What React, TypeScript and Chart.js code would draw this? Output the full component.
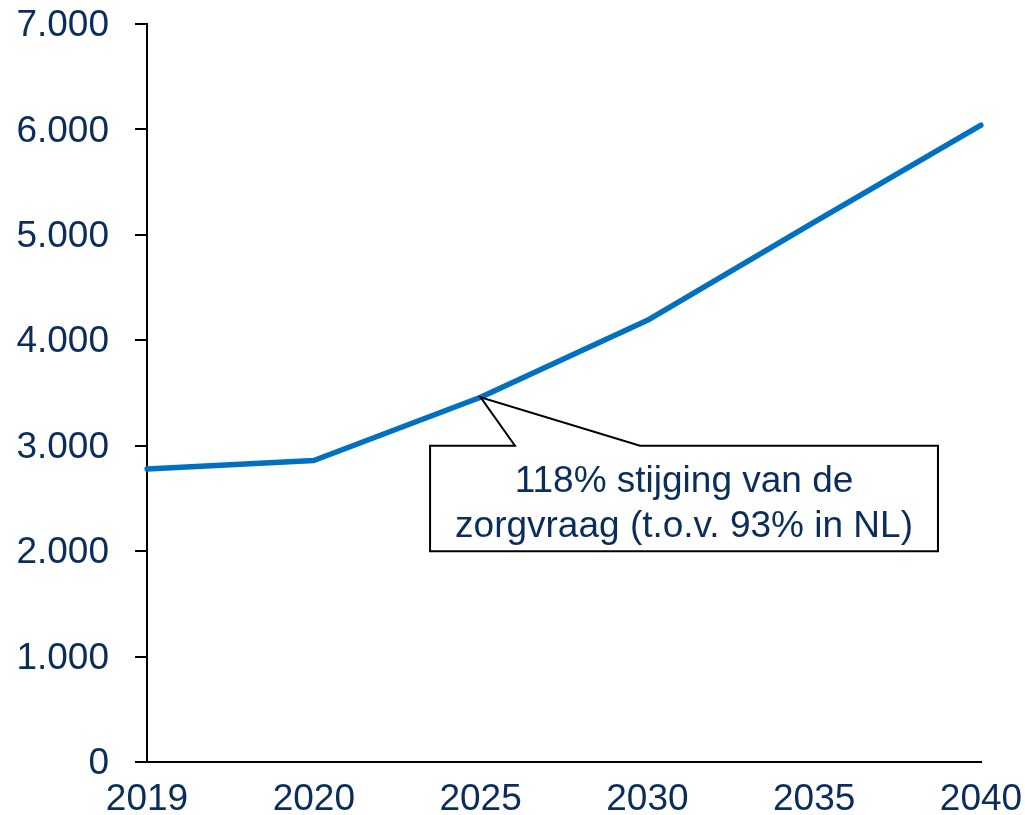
import React, { useEffect, useRef } from "react";
import { Chart, registerables } from "chart.js";

Chart.register(...registerables);

const categories = ["2019", "2020", "2025", "2030", "2035", "2040"];
const zorgvraag = [2780, 2860, 3460, 4190, 5120, 6040];
const yTicks = [0, 1000, 2000, 3000, 4000, 5000, 6000, 7000];
const calloutLines = ["118% stijging van de", "zorgvraag (t.o.v. 93% in NL)"];

const NAVY = "#0B2D5C";
const BLUE = "#0070C0";
const FONT = "'Liberation Sans', Arial, sans-serif";

const fmt = (v: number) => String(v).replace(/\B(?=(\d{3})+(?!\d))/g, ".");

const calloutPlugin = {
  id: "callout",
  afterDatasetsDraw(chart: any) {
    const { ctx, scales } = chart;
    const xs = scales.x;
    const ys = scales.y;
    const anchorIdx = 2;
    const tipX = xs.getPixelForValue(anchorIdx);
    const tipY = ys.getPixelForValue(zorgvraag[anchorIdx]);
    const left = xs.getPixelForValue(1.697);
    const right = xs.getPixelForValue(4.742);
    const top = ys.getPixelForValue(3000);
    const bottom = ys.getPixelForValue(2000);
    const baseL = xs.getPixelForValue(2.206);
    const baseR = xs.getPixelForValue(2.956);
    ctx.save();
    ctx.beginPath();
    ctx.moveTo(left, top);
    ctx.lineTo(baseL, top);
    ctx.lineTo(tipX, tipY);
    ctx.lineTo(baseR, top);
    ctx.lineTo(right, top);
    ctx.lineTo(right, bottom);
    ctx.lineTo(left, bottom);
    ctx.closePath();
    ctx.fillStyle = "#FFFFFF";
    ctx.fill();
    ctx.strokeStyle = "#000000";
    ctx.lineWidth = 2;
    ctx.stroke();
    ctx.fillStyle = NAVY;
    ctx.font = `37px ${FONT}`;
    ctx.textAlign = "center";
    ctx.textBaseline = "middle";
    const cx = (left + right) / 2;
    const cy = (top + bottom) / 2;
    ctx.fillText(calloutLines[0], cx, cy - 17);
    ctx.fillText(calloutLines[1], cx, cy + 28);
    ctx.restore();
  },
};

export default function App() {
  const ref = useRef<HTMLCanvasElement>(null);
  useEffect(() => {
    if (!ref.current) return;
    const chart = new Chart(ref.current, {
      type: "line",
      data: {
        labels: categories,
        datasets: [
          {
            data: zorgvraag,
            borderColor: BLUE,
            borderWidth: 5.5,
            pointRadius: 0,
            tension: 0,
            fill: false,
            borderCapStyle: "round",
            borderJoinStyle: "round",
          },
        ],
      },
      options: {
        animation: false,
        responsive: false,
        maintainAspectRatio: false,
        layout: { padding: { left: 0, right: 44, top: 24, bottom: 0 } },
        plugins: { legend: { display: false }, tooltip: { enabled: false } },
        scales: {
          x: {
            type: "category",
            offset: false,
            grid: { display: false, drawTicks: false },
            border: { display: true, color: "#000", width: 2 },
            ticks: {
              color: NAVY,
              font: { family: FONT, size: 37 },
              autoSkip: false,
              maxRotation: 0,
              padding: 16,
            },
            afterFit: (s: any) => {
              s.height = 53;
              s.paddingLeft = 0;
              s.paddingRight = 0;
            },
          },
          y: {
            min: 0,
            max: 7000,
            afterBuildTicks: (s: any) => {
              s.ticks = yTicks.map((v) => ({ value: v }));
            },
            grid: {
              drawOnChartArea: false,
              drawTicks: true,
              tickLength: 12,
              color: "#000",
              lineWidth: 2,
            },
            border: { display: true, color: "#000", width: 2 },
            ticks: {
              color: NAVY,
              font: { family: FONT, size: 37 },
              padding: 26,
              labelOffset: 2,
              callback: (v: any) => fmt(Number(v)),
            },
            afterFit: (s: any) => {
              s.width = 147;
              s.paddingTop = 0;
              s.paddingBottom = 0;
            },
          },
        },
      },
      plugins: [calloutPlugin],
    });
    return () => chart.destroy();
  }, []);
  return (
    <div style={{ position: "fixed", left: 0, top: 0, width: 1025, height: 815, background: "#fff" }}>
      <canvas ref={ref} width={1025} height={815} style={{ display: "block" }} />
    </div>
  );
}
